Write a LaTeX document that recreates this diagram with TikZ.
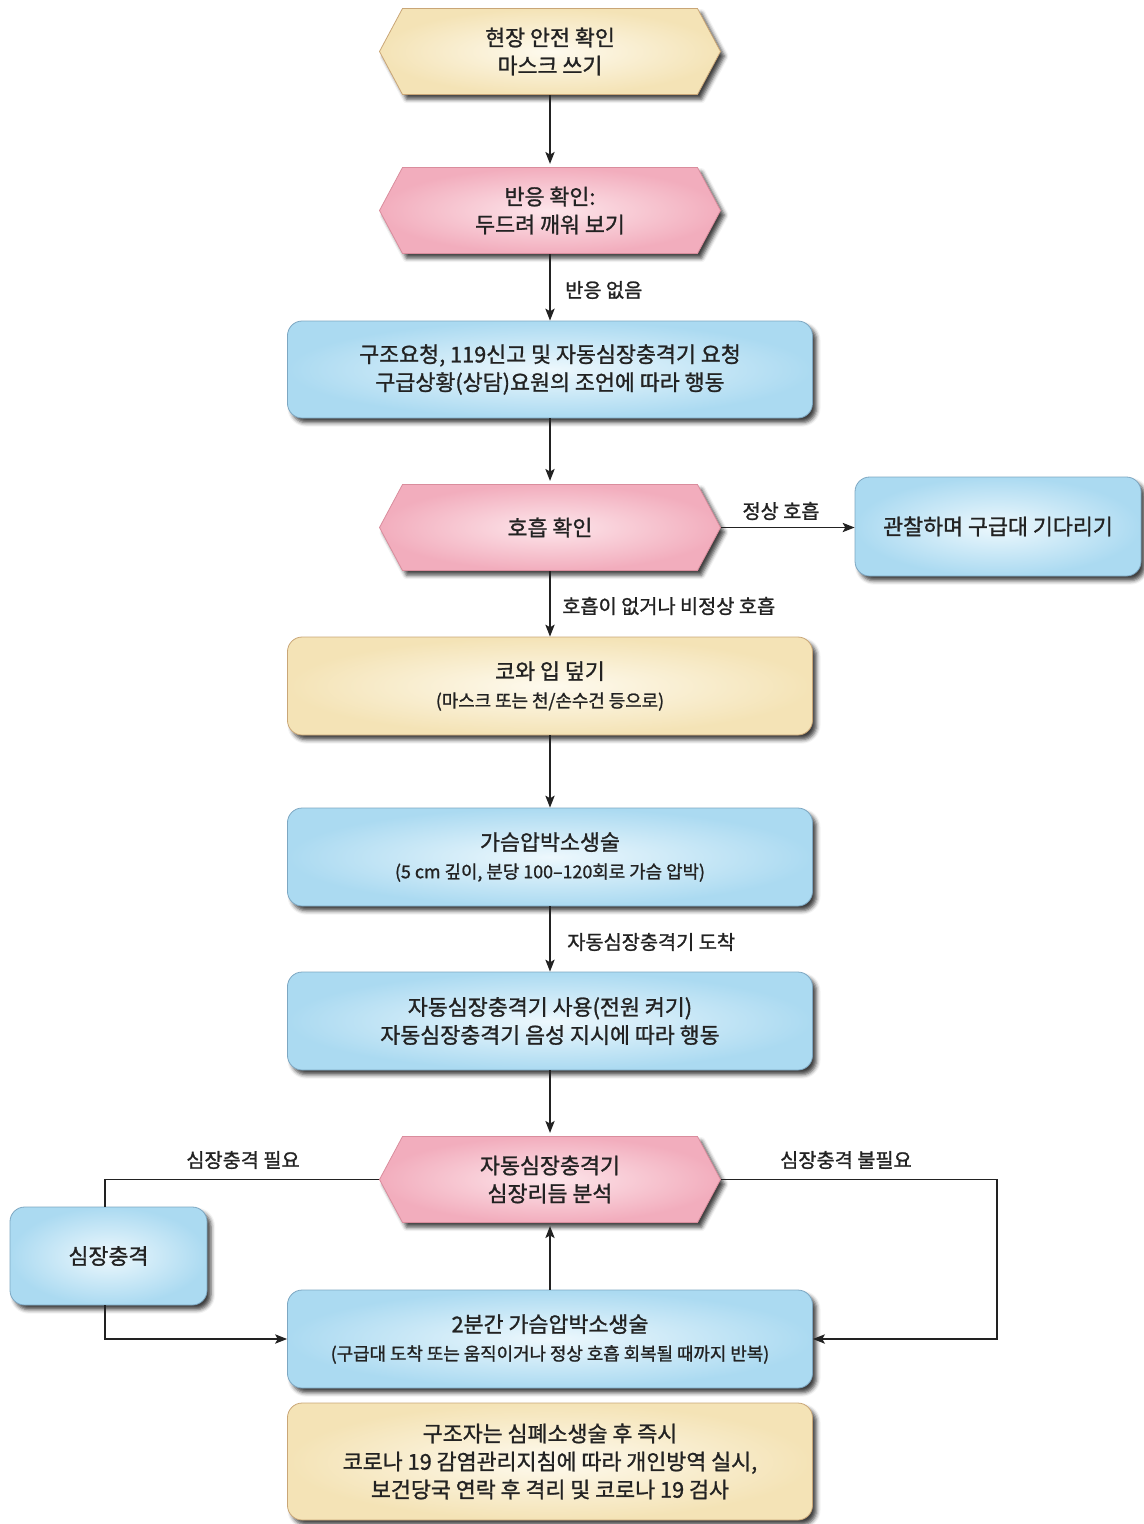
\documentclass[tikz,border=0pt]{standalone}
\usepackage{fontspec}
\setmainfont{Noto Sans CJK KR}[FakeBold=1.2]
\usetikzlibrary{arrows.meta,calc,shadows.blur}
\definecolor{ylL}{HTML}{FEFAEE}
\definecolor{ylD}{HTML}{F4E3B6}
\definecolor{ylB}{HTML}{C9A677}
\definecolor{pkL}{HTML}{FDE6EB}
\definecolor{pkD}{HTML}{F2ADBD}
\definecolor{pkB}{HTML}{D98D9D}
\definecolor{blL}{HTML}{EDF8FD}
\definecolor{blD}{HTML}{ABDAF1}
\definecolor{blB}{HTML}{7DA7C2}
\definecolor{ink}{HTML}{222222}
\newcommand\fm{\fontsize{16.3pt}{21pt}\selectfont}
\newcommand\fs{\fontsize{13.4pt}{17pt}\selectfont}
\newcommand\fl{\fontsize{14.8pt}{17pt}\selectfont}
\tikzset{
  shad/.style={blur shadow={shadow xshift=3pt, shadow yshift=-3.5pt, shadow blur radius=3pt, shadow opacity=75}},
  basebox/.style={rectangle, rounded corners=11pt, line width=0.6pt, align=center, text=ink, font=\fm,
     minimum width=393.75pt, minimum height=73.5pt, inner sep=2pt, shad},
  bluebox/.style={basebox, draw=blB, inner color=blL, outer color=blD},
  yelbox/.style={basebox, draw=ylB, inner color=ylL, outer color=ylD},
  hexnode/.style={rectangle, align=center, text=ink, font=\fm, minimum width=255.75pt, minimum height=65pt, inner sep=0pt},
  pinkfill/.style={draw=pkB, line width=0.6pt, inner color=pkL, outer color=pkD, shad},
  yelfill/.style={draw=ylB, line width=0.6pt, inner color=ylL, outer color=ylD, shad},
  conn/.style={draw=ink, line width=0.9pt},
  arr/.style={conn, -{Stealth[length=9pt, width=7pt, inset=2pt]}},
  lab/.style={font=\fl, text=ink, inner sep=0pt}
}
% #1 name, #2 x, #3 y, #4 fill style, #5 text
\newcommand\hexat[5]{%
  \path[#4] (#2-170.5,#3) -- (#2-147.5,#3-43) -- (#2+147.5,#3-43) -- (#2+170.5,#3)
     -- (#2+147.5,#3+43) -- (#2-147.5,#3+43) -- cycle;
  \node[hexnode] (#1) at (#2,#3) {#5};}
\begin{document}
\begin{tikzpicture}[x=0.75pt, y=-0.75pt]
\useasboundingbox (0,0) rectangle (1143,1524);

% nodes
\hexat{n1}{550}{51.5}{yelfill}{현장 안전 확인\\마스크 쓰기}
\hexat{n2}{550}{210.5}{pinkfill}{반응 확인:\\두드려 깨워 보기}
\node[bluebox, minimum height=72.75pt] (n3) at (550,369.5) {구조요청, 119신고 및 자동심장충격기 요청\\구급상황(상담)요원의 조언에 따라 행동};
\hexat{n4}{550}{527.5}{pinkfill}{호흡 확인}
\node[bluebox, minimum width=214.5pt, minimum height=74.25pt] (n5) at (998,526.5) {관찰하며 구급대 기다리기};
\node[yelbox] (n6) at (550,686) {코와 입 덮기\\{\fs (마스크 또는 천/손수건 등으로)}};
\node[bluebox] (n7) at (550,857) {가슴압박소생술\\{\fs (5 cm 깊이, 분당 100–120회로 가슴 압박)}};
\node[bluebox] (n8) at (550,1021) {자동심장충격기 사용(전원 켜기)\\자동심장충격기 음성 지시에 따라 행동};
\hexat{n9}{550}{1179.5}{pinkfill}{자동심장충격기\\심장리듬 분석}
\node[bluebox, minimum width=147.75pt] (n10) at (108.5,1256) {심장충격};
\node[bluebox] (n11) at (550,1339) {2분간 가슴압박소생술\\{\fs (구급대 도착 또는 움직이거나 정상 호흡 회복될 때까지 반복)}};
\node[yelbox, minimum height=87.75pt] (n12) at (550,1461.5) {구조자는 심폐소생술 후 즉시\\코로나 19 감염관리지침에 따라 개인방역 실시,\\보건당국 연락 후 격리 및 코로나 19 검사};

% connectors
\draw[arr] (n1.south) -- ($(n2.north)+(0,-3)$);
\draw[arr] (n2.south) -- (n3.north);
\draw[arr] (n3.south) -- ($(n4.north)+(0,-3)$);
\draw[arr] (n4.east) -- (n4.east -| n5.west);
\draw[arr] (n4.south) -- (n6.north);
\draw[arr] (n6.south) -- (n7.north);
\draw[arr] (n7.south) -- (n8.north);
\draw[arr] (n8.south) -- ($(n9.north)+(0,-3)$);
\coordinate (lt) at (105,1179.5);
\coordinate (rt) at (997,1179.5);
\draw[conn] (n9.west) -- (lt) -- (lt |- n10.north);
\draw[arr] (lt |- n10.south) |- (n11.west);
\draw[arr] (n9.east) -- (rt) |- (n11.east);
\draw[arr] (n11.north) -- ($(n9.south)+(0,3)$);

% labels
\node[lab, anchor=west] (l1) at (565,290) {반응 없음};
\node[lab] (l2) at (781,511) {정상 호흡};
\node[lab, anchor=west] (l3) at (562,606) {호흡이 없거나 비정상 호흡};
\node[lab, anchor=west] (l4) at (567,942) {자동심장충격기 도착};
\node[lab] (l5) at (243,1160) {심장충격 필요};
\node[lab] (l6) at (846,1160) {심장충격 불필요};
\end{tikzpicture}
\end{document}
